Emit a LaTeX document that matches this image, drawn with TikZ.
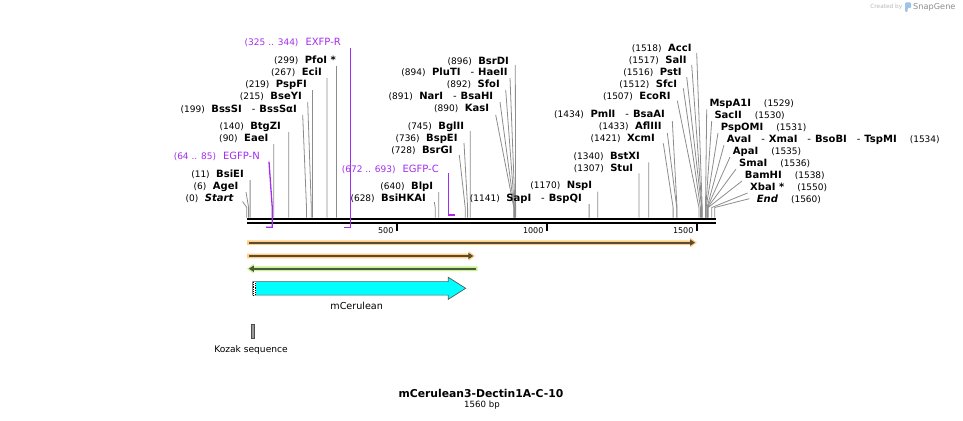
\documentclass[tikz,border=0pt]{standalone}
\usepackage{fontspec}
\setmainfont{DejaVu Sans}
\usetikzlibrary{arrows.meta}
\definecolor{primer}{HTML}{A32CF0}
\definecolor{leadc}{HTML}{8C8C8C}
\definecolor{orfor}{HTML}{FFCC80}
\definecolor{orfgr}{HTML}{C8F28E}
\definecolor{orfdark}{HTML}{5A4B35}
\definecolor{grdark}{HTML}{4A5A3C}
\definecolor{cerul}{HTML}{00FFFF}
\definecolor{logoc}{HTML}{B8B8B8}
\definecolor{logob}{HTML}{9DC3E6}
\newcommand\enzp[1]{{\fontsize{9}{10}\selectfont #1}\hspace{6.5pt}}
\newcommand\enzq[1]{\hspace{13pt}{\fontsize{9}{10}\selectfont #1}}
\newcommand\enzn[1]{{\bfseries #1}}
\newcommand\enzd{\hspace{10pt}{\mdseries -}\hspace{4pt}}
% left-side label: id, bp, label x, label y, top x, top y, text
\newcommand\enzL[7]{%
  \coordinate (s#1) at ({246.8+0.3*#2},217.5);
  \coordinate (t#1) at (#5,#6);
  \node[lbl,anchor=east] (l#1) at (#3,#4) {#7};
  \draw[leader] (s#1) -- ++(0,-10) -- (t#1);}
\newcommand\enzR[7]{%
  \coordinate (s#1) at ({246.8+0.3*#2},217.5);
  \coordinate (t#1) at (#5,#6);
  \node[lbl,anchor=west] (l#1) at (#3,#4) {#7};
  \draw[leader] (s#1) -- ++(0,-10) -- (t#1);}
\begin{document}
\begin{tikzpicture}[x=1pt,y=-1pt,
  lbl/.style={inner sep=0pt,font=\fontsize{10}{12}\selectfont,text height=7.5pt,text depth=1pt},
  plbl/.style={lbl,text=primer},
  leader/.style={draw=leadc,line width=0.8pt},
  primerline/.style={draw=primer,line width=1.3pt},
  bbone/.style={line width=2.3pt,black},
  ticks/.style={line width=1.4pt,black},
  rlbl/.style={inner sep=0pt,font=\fontsize{8}{9}\selectfont},
  orfhalo/.style={fill=orfor},
  grhalo/.style={fill=orfgr},
  orfline/.style={draw=orfdark,line width=1.8pt,-{Triangle[length=5pt,width=6pt]}},
  grline/.style={draw=grdark,line width=1.8pt,-{Triangle[length=5pt,width=6pt]}},
  featlbl/.style={inner sep=0pt,font=\fontsize{9.6}{11}\selectfont},
  ]
\useasboundingbox (0,0) rectangle (963,420);

% ---------- enzyme sites, left group ----------
\enzL{start}{0}{233.5}{198.3}{242.5}{201.5}{\enzp{(0)}\enzn{\itshape Start}}
\enzL{agei}{6}{238.5}{186.7}{246}{192}{\enzp{(6)}\enzn{AgeI}}
\enzL{bsiei}{11}{244}{174}{250.1}{180}{\enzp{(11)}\enzn{BsiEI}}
\enzL{eaei}{90}{268.5}{138.3}{273.8}{144}{\enzp{(90)}\enzn{EaeI}}
\enzL{btgzi}{140}{281}{126.5}{288.8}{132}{\enzp{(140)}\enzn{BtgZI}}
\enzL{bsssi}{199}{297}{109}{302.7}{115}{\enzp{(199)}\enzn{BssSI}\enzd\enzn{BssSαI}}
\enzL{bseyi}{215}{302}{96.5}{307.7}{102}{\enzp{(215)}\enzn{BseYI}}
\enzL{pspfi}{219}{307}{84.2}{312.5}{90}{\enzp{(219)}\enzn{PspFI}}
\enzL{ecii}{267}{322}{72.3}{326.9}{78}{\enzp{(267)}\enzn{EciI}}
\enzL{pfoi}{299}{336}{60.6}{336.5}{66}{\enzp{(299)}\enzn{PfoI *}}

% ---------- middle group ----------
\enzL{bsrdi}{896}{509}{61}{515.3}{65}{\enzp{(896)}\enzn{BsrDI}}
\enzL{pluti}{894}{507.7}{72.7}{510}{78}{\enzp{(894)}\enzn{PluTI}\enzd\enzn{HaeII}}
\enzL{sfoi}{892}{500}{84}{505.7}{90}{\enzp{(892)}\enzn{SfoI}}
\enzL{nari}{891}{493.3}{95.8}{500}{102}{\enzp{(891)}\enzn{NarI}\enzd\enzn{BsaHI}}
\enzL{kasi}{890}{489.3}{108.4}{495.7}{115}{\enzp{(890)}\enzn{KasI}}
\enzL{bglii}{745}{464.3}{126}{470.3}{131}{\enzp{(745)}\enzn{BglII}}
\enzL{bspei}{736}{457.7}{138.3}{464}{143}{\enzp{(736)}\enzn{BspEI}}
\enzL{bsrgi}{728}{452.7}{150.6}{459.3}{155}{\enzp{(728)}\enzn{BsrGI}}
\enzL{blpi}{640}{433.3}{186.7}{438.8}{192}{\enzp{(640)}\enzn{BlpI}}
\enzL{bsihkai}{628}{426}{198.5}{434.3}{202}{\enzp{(628)}\enzn{BsiHKAI}}
\enzL{sapi}{1141}{582}{198.5}{589.1}{204}{\enzp{(1141)}\enzn{SapI}\enzd\enzn{BspQI}}
\enzL{nspi}{1170}{592.3}{185.5}{597.8}{191.7}{\enzp{(1170)}\enzn{NspI}}
\enzL{stui}{1307}{633.3}{168.3}{638.9}{173.3}{\enzp{(1307)}\enzn{StuI}}
\enzL{bstxi}{1340}{640}{156.3}{648.8}{162.3}{\enzp{(1340)}\enzn{BstXI}}
\enzL{xcmi}{1421}{655}{138.3}{663.3}{143.3}{\enzp{(1421)}\enzn{XcmI}}
\enzL{afliii}{1433}{661.7}{126}{667.3}{133}{\enzp{(1433)}\enzn{AflIII}}
\enzL{pmli}{1434}{665}{114.2}{672.3}{121}{\enzp{(1434)}\enzn{PmlI}\enzd\enzn{BsaAI}}
\enzL{ecori}{1507}{670.7}{96.7}{677.3}{100.7}{\enzp{(1507)}\enzn{EcoRI}}
\enzL{sfci}{1512}{677.3}{84.3}{683.3}{88.3}{\enzp{(1512)}\enzn{SfcI}}
\enzL{psti}{1516}{681.7}{72.3}{686.7}{77}{\enzp{(1516)}\enzn{PstI}}
\enzL{sali}{1517}{686.7}{60}{691.7}{65}{\enzp{(1517)}\enzn{SalI}}
\enzL{acci}{1518}{691.7}{48.3}{696.7}{53}{\enzp{(1518)}\enzn{AccI}}

% ---------- right group ----------
\enzR{mspa}{1529}{709.3}{103.3}{706.7}{109.3}{\enzn{MspA1I}\enzq{(1529)}}
\enzR{sacii}{1530}{714.3}{115}{711.7}{121}{\enzn{SacII}\enzq{(1530)}}
\enzR{pspomi}{1531}{720.7}{127}{718}{133}{\enzn{PspOMI}\enzq{(1531)}}
\enzR{avai}{1534}{726.7}{139}{724}{145}{\enzn{AvaI}\enzd\enzn{XmaI}\enzd\enzn{BsoBI}\enzd\enzn{TspMI}\enzq{(1534)}}
\enzR{apai}{1535}{732.7}{151}{730}{157}{\enzn{ApaI}\enzq{(1535)}}
\enzR{smai}{1536}{739}{163}{736}{169}{\enzn{SmaI}\enzq{(1536)}}
\enzR{bamhi}{1538}{744.7}{175}{742}{181}{\enzn{BamHI}\enzq{(1538)}}
\enzR{xbai}{1550}{750}{187}{747.5}{193}{\enzn{XbaI *}\enzq{(1550)}}
\enzR{endl}{1560}{756.7}{199}{749.3}{198.7}{\enzn{\itshape End}\enzq{(1560)}}

% ---------- backbone ----------
\coordinate (bbA) at (246.8,219.2);
\coordinate (bbB) at (715.8,219.2);
\coordinate (bbC) at (246.8,223.2);
\coordinate (bbD) at (715.8,223.2);
\draw[bbone] (bbA) -- (bbB);
\draw[bbone] (bbC) -- (bbD);

% ruler
\coordinate (k500) at (396.8,224);
\coordinate (k1000) at (546.8,224);
\coordinate (k1500) at (696.8,224);
\draw[ticks] (k500) -- ++(0,6.7);
\draw[ticks] (k1000) -- ++(0,6.7);
\draw[ticks] (k1500) -- ++(0,6.7);
\node[rlbl,anchor=east] (r500) at (393.6,230.3) {500};
\node[rlbl,anchor=east] (r1000) at (543.6,230.3) {1000};
\node[rlbl,anchor=east] (r1500) at (693.6,230.3) {1500};

% ---------- primers ----------
\node[plbl,anchor=east] (exfpr) at (341,42.6) {{\fontsize{9}{10}\selectfont(325 .. 344)}\hspace{7pt}EXFP-R};
\coordinate (exa) at (344.3,227.3);
\coordinate (exb) at (350.2,227.3);
\coordinate (ext) at (350.2,48);
\draw[primerline] (exa) -- (exb) -- (ext);

\node[plbl,anchor=east] (egfpn) at (260,156.3) {{\fontsize{9}{10}\selectfont(64 .. 85)}\hspace{7pt}EGFP-N};
\coordinate (ena) at (266.2,227.3);
\coordinate (enb) at (272.3,227.3);
\coordinate (ent) at (269,161.7);
\draw[primerline] (ena) -- (enb) -- (272.3,208) -- (ent);

\node[plbl,anchor=east] (egfpc) at (439,169) {{\fontsize{9}{10}\selectfont(672 .. 693)}\hspace{7pt}EGFP-C};
\coordinate (eca) at (448.6,215);
\coordinate (ecb) at (454.6,215);
\coordinate (ect) at (448.6,173.3);
\draw[primerline] (ecb) -- (eca) -- (ect);

% ---------- ORF arrows ----------
% orange 1
\fill[orfhalo] (247,240.3) -- (690.2,240.3) -- (690.2,237.8) -- (696.8,242.6) -- (690.2,247.4) -- (690.2,244.9) -- (247,244.9) -- cycle;
\coordinate (o1a) at (249,242.6);
\coordinate (o1b) at (695,242.6);
\draw[orfline] (o1a) -- (o1b);
% orange 2
\fill[orfhalo] (247,253.7) -- (468.5,253.7) -- (468.5,251.2) -- (475.1,256) -- (468.5,260.8) -- (468.5,258.3) -- (247,258.3) -- cycle;
\coordinate (o2a) at (249,256);
\coordinate (o2b) at (473.3,256);
\draw[orfline] (o2a) -- (o2b);
% green reverse
\fill[grhalo] (477.7,266.4) -- (253.6,266.4) -- (253.6,263.9) -- (247,268.7) -- (253.6,273.5) -- (253.6,271) -- (477.7,271) -- cycle;
\coordinate (g1a) at (475.7,268.7);
\coordinate (g1b) at (248.8,268.7);
\draw[grline] (g1a) -- (g1b);

% ---------- mCerulean ----------
\draw[fill=cerul,draw=black!65,line width=0.7pt] (252.7,281.6) -- (448.3,281.6) -- (448.3,277.3) -- (465.7,288.3) -- (448.3,299.3) -- (448.3,295.1) -- (252.7,295.1) -- cycle;
\fill[white] (253.2,282) rectangle (256,294.7);
\draw[black,line width=0.7pt,dash pattern=on 0.9pt off 0.9pt] (253.7,282) -- (253.7,294.7);
\draw[black,line width=0.7pt,dash pattern=on 0.9pt off 0.9pt,dash phase=0.9pt] (255.4,282) -- (255.4,294.7);
\node[featlbl] (mcer) at (356.7,306) {mCerulean};

% ---------- Kozak ----------
\draw[fill=black!40,draw=black!70,line width=0.6pt] (251.6,324.3) rectangle (254.4,338.3);
\node[featlbl,font=\fontsize{9.1}{11}\selectfont] (kozak) at (251,350) {Kozak sequence};

% ---------- title ----------
\node[inner sep=0pt,font=\fontsize{10.8}{12}\selectfont\bfseries] (title) at (481,393) {mCerulean3-Dectin1A-C-10};
\node[inner sep=0pt,font=\fontsize{8.6}{10}\selectfont] (bp) at (482,404.8) {1560 bp};

% ---------- logo ----------
\node[inner sep=0pt,font=\fontsize{5.8}{7}\selectfont,text=logoc,anchor=east] (created) at (902.5,7.3) {Created by};
\fill[logob,rounded corners=1pt] (905,2.5) -- (911,2.5) -- (911,8) -- (907.5,8) -- (907.5,12) -- (905,12) -- cycle;
\node[inner sep=0pt,font=\fontsize{8.2}{9}\selectfont,text=black!45,anchor=west] (snapg) at (913,7.3) {SnapGene};
\end{tikzpicture}
\end{document}
